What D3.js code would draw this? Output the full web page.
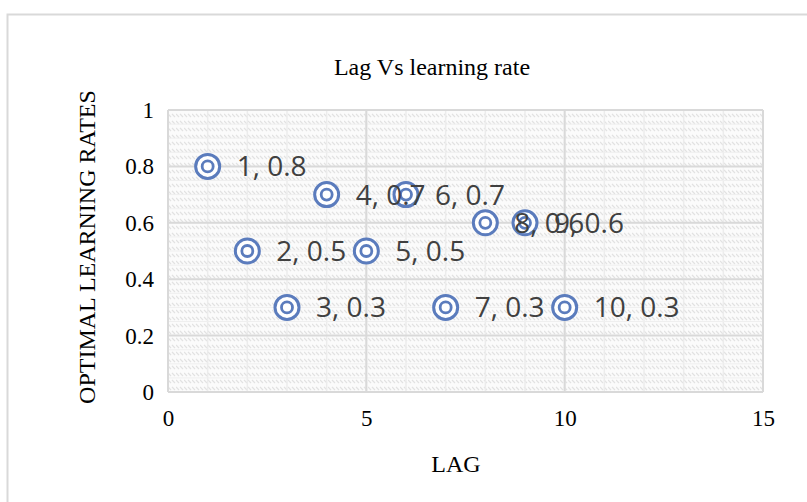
<!DOCTYPE html>
<html>
<head>
<meta charset="utf-8">
<script src="https://cdn.jsdelivr.net/npm/d3@7"></script>
<style>
  body { margin: 0; background: #fff; }
  svg { display: block; }
</style>
</head>
<body>
<svg id="chart" width="807" height="502"></svg>
<script>
// data
const lags = [1, 2, 3, 4, 5, 6, 7, 8, 9, 10];
const rates = [0.8, 0.5, 0.3, 0.7, 0.5, 0.7, 0.3, 0.6, 0.6, 0.3];
const xTicks = [0, 5, 10, 15];
const yTicks = [0, 0.2, 0.4, 0.6, 0.8, 1];

const svg = d3.select('#chart');
const m = { left: 168, right: 763, top: 110, bottom: 392 };

const x = d3.scaleLinear().domain([0, 15]).range([m.left, m.right]);
const y = d3.scaleLinear().domain([0, 1]).range([m.bottom, m.top]);

// outer frame
svg.append('rect')
  .attr('x', 7.5).attr('y', 14.5)
  .attr('width', 820).attr('height', 520)
  .attr('fill', '#fff').attr('stroke', '#d9d9d9').attr('stroke-width', 2);

// hatched plot background
const defs = svg.append('defs');
const pat = defs.append('pattern')
  .attr('id', 'hatch').attr('patternUnits', 'userSpaceOnUse')
  .attr('width', 8).attr('height', 7);
pat.append('rect').attr('width', 8).attr('height', 7).attr('fill', '#fbfbfb');
pat.append('path').attr('d', 'M0,2 L3,5 M4,2 L7,5')
  .attr('stroke', '#e2e2e2').attr('stroke-width', 1.2);

svg.append('rect')
  .attr('x', m.left).attr('y', m.top)
  .attr('width', m.right - m.left).attr('height', m.bottom - m.top)
  .attr('fill', 'url(#hatch)');

// minor grid
const g = svg.append('g');
g.selectAll('.vminor').data(d3.range(0, 16, 1)).join('line')
  .attr('x1', d => x(d)).attr('x2', d => x(d))
  .attr('y1', m.top).attr('y2', m.bottom)
  .attr('stroke', '#ececec').attr('stroke-width', 1.5);
g.selectAll('.hminor').data(d3.range(0, 1.001, 0.05)).join('line')
  .attr('y1', d => y(d)).attr('y2', d => y(d))
  .attr('x1', m.left).attr('x2', m.right)
  .attr('stroke', '#efefef').attr('stroke-width', 1);

// major grid
g.selectAll('.vmajor').data(xTicks).join('line')
  .attr('x1', d => x(d)).attr('x2', d => x(d))
  .attr('y1', m.top).attr('y2', m.bottom)
  .attr('stroke', '#d9d9d9').attr('stroke-width', 2);
g.selectAll('.hmajor').data(yTicks).join('line')
  .attr('y1', d => y(d)).attr('y2', d => y(d))
  .attr('x1', m.left).attr('x2', m.right)
  .attr('stroke', '#d9d9d9').attr('stroke-width', 2);

// axes (labels only)
const serif = '"Liberation Serif", "Times New Roman", serif';
const xAxis = svg.append('g')
  .attr('transform', `translate(0,418)`)
  .call(d3.axisBottom(x).tickValues(xTicks).tickSize(0).tickPadding(0).tickFormat(d3.format('d')));
const yAxis = svg.append('g')
  .attr('transform', `translate(${m.left - 14},0)`)
  .call(d3.axisLeft(y).tickValues(yTicks).tickSize(0).tickPadding(0).tickFormat(d => d === 0 || d === 1 ? d : d3.format('.1f')(d)));
[xAxis, yAxis].forEach(a => {
  a.select('.domain').remove();
  a.selectAll('text').attr('font-family', serif).attr('font-size', 23).attr('fill', '#000')
    .attr('y', 0).attr('dy', '0.33em');
});

// titles
svg.append('text').attr('x', 432).attr('y', 75)
  .attr('text-anchor', 'middle').attr('font-family', serif).attr('font-size', 24)
  .text('Lag Vs learning rate');
svg.append('text').attr('x', 456).attr('y', 472)
  .attr('text-anchor', 'middle').attr('font-family', serif).attr('font-size', 24)
  .text('LAG');
svg.append('text')
  .attr('transform', `translate(95,247) rotate(-90)`)
  .attr('text-anchor', 'middle').attr('font-family', serif).attr('font-size', 24)
  .text('OPTIMAL LEARNING RATES');

// points
const pts = lags.map((l, i) => ({ l, r: rates[i] }));
const blue = '#5b7cbd';
const pg = svg.append('g').selectAll('g').data(pts).join('g')
  .attr('transform', d => `translate(${x(d.l)},${y(d.r)})`);
pg.append('circle').attr('r', 12).attr('fill', '#fff')
  .attr('stroke', blue).attr('stroke-width', 3);
pg.append('circle').attr('r', 5.5).attr('fill', 'none')
  .attr('stroke', blue).attr('stroke-width', 2.8);

// data labels
svg.append('g').selectAll('text').data(pts).join('text')
  .attr('x', d => x(d.l) + 29).attr('y', d => y(d.r))
  .attr('dy', '0.36em')
  .attr('font-family', '"Open Sans", "Noto Sans", sans-serif')
  .attr('font-size', 28).attr('fill', '#404040')
  .text(d => `${d.l}, ${d.r}`);
</script>
</body>
</html>
